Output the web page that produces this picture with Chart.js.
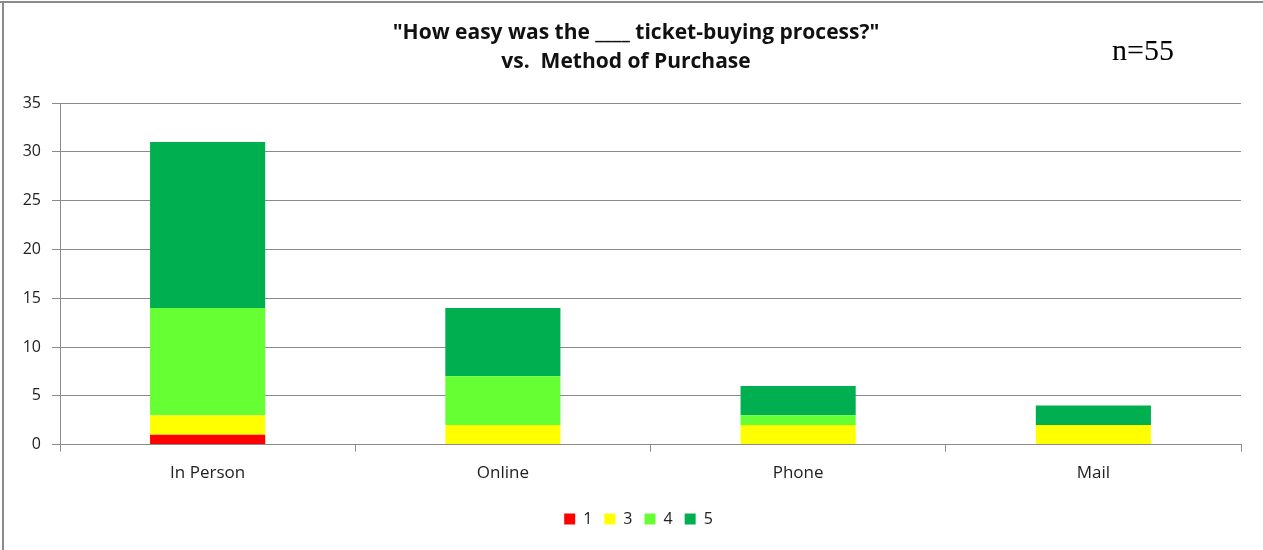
<!DOCTYPE html>
<html>
<head>
<meta charset="utf-8">
<title>Ticket-buying process vs. Method of Purchase</title>
<script src="https://cdn.jsdelivr.net/npm/chart.js@4.4.1/dist/chart.umd.min.js"></script>
<style>
	html, body { margin: 0; padding: 0; background: #fff; }
	#wrap { position: relative; width: 1263px; height: 550px; }
</style>
</head>
<body>
<div id="wrap"><canvas id="chart" width="1263" height="550"></canvas></div>
<script>
// Data
const categories = ['In Person', 'Online', 'Phone', 'Mail'];
const rating1 = [1, 0, 0, 0];
const rating3 = [2, 2, 2, 2];
const rating4 = [11, 5, 1, 0];
const rating5 = [17, 7, 3, 2];
const yTicks = [0, 5, 10, 15, 20, 25, 30, 35];
const titleLines = ['"How easy was the ____ ticket-buying process?"', 'vs.  Method of Purchase'];
const sampleSize = 'n=55';

const gridColor = '#8a8a8a';
const textColor = '#222';
const fontFamily = '"Open Sans", sans-serif';

// Frame lines, the two-line title and the n= note
const decorations = {
	id: 'decorations',
	afterLayout(chart) {
		// legend sits a bit right of centre in the original
		if (chart.legend) {
			chart.legend.left += 18;
			chart.legend.right += 18;
		}
	},
	afterDraw(chart) {
		const ctx = chart.ctx;
		ctx.save();
		ctx.fillStyle = '#8a8a8a';
		ctx.fillRect(0, 1, chart.width, 2);
		ctx.fillRect(2, 1, 2, chart.height);

		ctx.fillStyle = '#111';
		ctx.font = 'bold 21px ' + fontFamily;
		ctx.textAlign = 'center';
		ctx.textBaseline = 'middle';
		ctx.fillText(titleLines[0], 636, 33);
		ctx.fillText(titleLines[1], 626, 62);

		ctx.fillStyle = '#000';
		ctx.font = '30px "Liberation Serif", serif';
		ctx.textAlign = 'left';
		ctx.textBaseline = 'alphabetic';
		ctx.fillText(sampleSize, 1112, 60);
		ctx.restore();
	},
};

const ctx = document.getElementById('chart').getContext('2d');
const chart = new Chart(ctx, {
	type: 'bar',
	data: {
		labels: categories,
		datasets: [
			{ label: '1', data: rating1, backgroundColor: '#ff0000' },
			{ label: '3', data: rating3, backgroundColor: '#ffff00' },
			{ label: '4', data: rating4, backgroundColor: '#66ff33' },
			{ label: '5', data: rating5, backgroundColor: '#00b050' },
		],
	},
	options: {
		responsive: false,
		animation: false,
		devicePixelRatio: 1,
		barPercentage: 0.39,
		categoryPercentage: 1,
		layout: { padding: { left: 0, right: 22, top: 103, bottom: 13 } },
		plugins: {
			title: { display: false },
			legend: {
				position: 'bottom',
				labels: {
					color: textColor,
					font: { family: fontFamily, size: 16 },
					boxWidth: 11,
					boxHeight: 11,
					padding: 12,
				},
			},
			tooltip: { enabled: false },
		},
		scales: {
			x: {
				stacked: true,
				afterFit(scale) { scale.height += 5; },
				grid: {
					offset: true,
					drawOnChartArea: false,
					drawTicks: true,
					tickLength: 7,
					color: gridColor,
				},
				border: { color: gridColor, width: 1 },
				ticks: { color: textColor, font: { family: fontFamily, size: 17 }, padding: 11 },
			},
			y: {
				stacked: true,
				min: 0,
				max: 35,
				afterFit(scale) { scale.width = 60; },
				afterBuildTicks(scale) { scale.ticks = yTicks.map((v) => ({ value: v })); },
				grid: { color: gridColor, tickLength: 8 },
				border: { color: gridColor, width: 1 },
				ticks: { color: textColor, font: { family: fontFamily, size: 16 }, padding: 11 },
			},
		},
	},
	plugins: [decorations],
});
</script>
</body>
</html>
